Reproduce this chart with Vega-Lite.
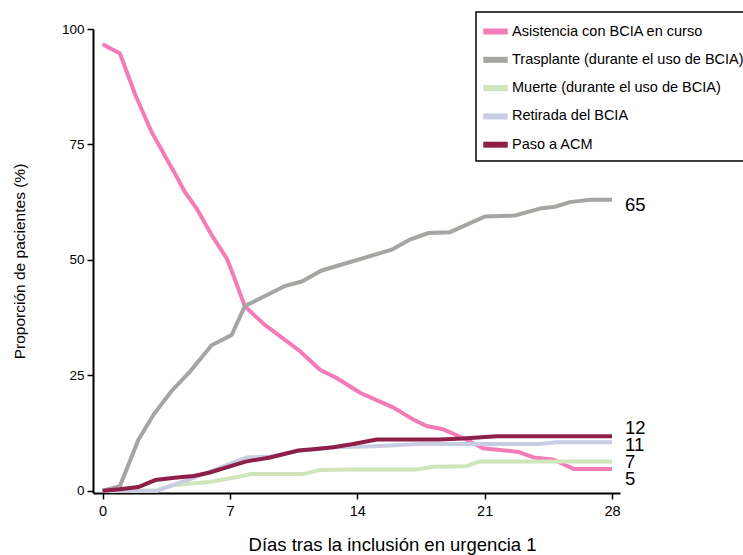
{
  "$schema": "https://vega.github.io/schema/vega-lite/v6.json",
  "autosize": {"type": "none"},
  "width": 527,
  "height": 464,
  "padding": {"left": 93, "top": 29, "right": 123, "bottom": 62},
  "background": "white",
  "config": {
    "view": {"stroke": null},
    "font": "Liberation Sans",
    "axis": {
      "grid": false,
      "domainColor": "black",
      "domainWidth": 2,
      "tickColor": "black",
      "tickWidth": 1.5,
      "tickSize": 6,
      "labelColor": "black",
      "titleColor": "black",
      "labelFont": "Liberation Sans",
      "titleFont": "Liberation Sans",
      "titleFontWeight": "normal"
    }
  },
  "datasets": {
    "lines": [
      {"day": 0, "value": 96.7, "serie": "Asistencia con BCIA en curso"},
      {"day": 0.95, "value": 94.7, "serie": "Asistencia con BCIA en curso"},
      {"day": 1.81, "value": 85.6, "serie": "Asistencia con BCIA en curso"},
      {"day": 2.69, "value": 77.7, "serie": "Asistencia con BCIA en curso"},
      {"day": 4.07, "value": 68.0, "serie": "Asistencia con BCIA en curso"},
      {"day": 4.52, "value": 64.7, "serie": "Asistencia con BCIA en curso"},
      {"day": 5.17, "value": 61.1, "serie": "Asistencia con BCIA en curso"},
      {"day": 5.99, "value": 55.4, "serie": "Asistencia con BCIA en curso"},
      {"day": 6.82, "value": 50.3, "serie": "Asistencia con BCIA en curso"},
      {"day": 7.0, "value": 48.6, "serie": "Asistencia con BCIA en curso"},
      {"day": 7.82, "value": 39.9, "serie": "Asistencia con BCIA en curso"},
      {"day": 8.92, "value": 35.9, "serie": "Asistencia con BCIA en curso"},
      {"day": 10.85, "value": 30.2, "serie": "Asistencia con BCIA en curso"},
      {"day": 11.95, "value": 26.2, "serie": "Asistencia con BCIA en curso"},
      {"day": 12.86, "value": 24.4, "serie": "Asistencia con BCIA en curso"},
      {"day": 14.15, "value": 21.2, "serie": "Asistencia con BCIA en curso"},
      {"day": 15.98, "value": 18.0, "serie": "Asistencia con BCIA en curso"},
      {"day": 17.08, "value": 15.4, "serie": "Asistencia con BCIA en curso"},
      {"day": 17.81, "value": 14.0, "serie": "Asistencia con BCIA en curso"},
      {"day": 18.7, "value": 13.3, "serie": "Asistencia con BCIA en curso"},
      {"day": 20.0, "value": 11.1, "serie": "Asistencia con BCIA en curso"},
      {"day": 20.9, "value": 9.2, "serie": "Asistencia con BCIA en curso"},
      {"day": 22.85, "value": 8.4, "serie": "Asistencia con BCIA en curso"},
      {"day": 23.7, "value": 7.2, "serie": "Asistencia con BCIA en curso"},
      {"day": 24.8, "value": 6.7, "serie": "Asistencia con BCIA en curso"},
      {"day": 25.9, "value": 4.7, "serie": "Asistencia con BCIA en curso"},
      {"day": 28, "value": 4.7, "serie": "Asistencia con BCIA en curso"},

      {"day": 0, "value": 0, "serie": "Trasplante (durante el uso de BCIA)"},
      {"day": 0.95, "value": 1.0, "serie": "Trasplante (durante el uso de BCIA)"},
      {"day": 1.96, "value": 11.0, "serie": "Trasplante (durante el uso de BCIA)"},
      {"day": 2.82, "value": 16.6, "serie": "Trasplante (durante el uso de BCIA)"},
      {"day": 3.79, "value": 21.6, "serie": "Trasplante (durante el uso de BCIA)"},
      {"day": 4.8, "value": 25.8, "serie": "Trasplante (durante el uso de BCIA)"},
      {"day": 5.99, "value": 31.5, "serie": "Trasplante (durante el uso de BCIA)"},
      {"day": 7.09, "value": 33.7, "serie": "Trasplante (durante el uso de BCIA)"},
      {"day": 7.82, "value": 40.0, "serie": "Trasplante (durante el uso de BCIA)"},
      {"day": 9.2, "value": 42.7, "serie": "Trasplante (durante el uso de BCIA)"},
      {"day": 10.0, "value": 44.3, "serie": "Trasplante (durante el uso de BCIA)"},
      {"day": 10.94, "value": 45.3, "serie": "Trasplante (durante el uso de BCIA)"},
      {"day": 12.04, "value": 47.7, "serie": "Trasplante (durante el uso de BCIA)"},
      {"day": 15.89, "value": 52.2, "serie": "Trasplante (durante el uso de BCIA)"},
      {"day": 16.89, "value": 54.4, "serie": "Trasplante (durante el uso de BCIA)"},
      {"day": 17.9, "value": 55.8, "serie": "Trasplante (durante el uso de BCIA)"},
      {"day": 19.09, "value": 56.0, "serie": "Trasplante (durante el uso de BCIA)"},
      {"day": 21.02, "value": 59.4, "serie": "Trasplante (durante el uso de BCIA)"},
      {"day": 22.67, "value": 59.6, "serie": "Trasplante (durante el uso de BCIA)"},
      {"day": 24.13, "value": 61.2, "serie": "Trasplante (durante el uso de BCIA)"},
      {"day": 24.87, "value": 61.5, "serie": "Trasplante (durante el uso de BCIA)"},
      {"day": 25.69, "value": 62.5, "serie": "Trasplante (durante el uso de BCIA)"},
      {"day": 26.79, "value": 63.0, "serie": "Trasplante (durante el uso de BCIA)"},
      {"day": 28, "value": 63.0, "serie": "Trasplante (durante el uso de BCIA)"},

      {"day": 0, "value": 0, "serie": "Muerte (durante el uso de BCIA)"},
      {"day": 2.97, "value": 0, "serie": "Muerte (durante el uso de BCIA)"},
      {"day": 3.79, "value": 1.2, "serie": "Muerte (durante el uso de BCIA)"},
      {"day": 5.07, "value": 1.6, "serie": "Muerte (durante el uso de BCIA)"},
      {"day": 5.9, "value": 1.9, "serie": "Muerte (durante el uso de BCIA)"},
      {"day": 7.82, "value": 3.3, "serie": "Muerte (durante el uso de BCIA)"},
      {"day": 8.1, "value": 3.6, "serie": "Muerte (durante el uso de BCIA)"},
      {"day": 11.03, "value": 3.6, "serie": "Muerte (durante el uso de BCIA)"},
      {"day": 11.95, "value": 4.5, "serie": "Muerte (durante el uso de BCIA)"},
      {"day": 13.6, "value": 4.6, "serie": "Muerte (durante el uso de BCIA)"},
      {"day": 17.26, "value": 4.6, "serie": "Muerte (durante el uso de BCIA)"},
      {"day": 18.18, "value": 5.2, "serie": "Muerte (durante el uso de BCIA)"},
      {"day": 20.0, "value": 5.3, "serie": "Muerte (durante el uso de BCIA)"},
      {"day": 20.7, "value": 6.3, "serie": "Muerte (durante el uso de BCIA)"},
      {"day": 28, "value": 6.3, "serie": "Muerte (durante el uso de BCIA)"},

      {"day": 0, "value": 0, "serie": "Retirada del BCIA"},
      {"day": 2.97, "value": 0, "serie": "Retirada del BCIA"},
      {"day": 4.9, "value": 2.6, "serie": "Retirada del BCIA"},
      {"day": 5.8, "value": 4.0, "serie": "Retirada del BCIA"},
      {"day": 7.92, "value": 7.2, "serie": "Retirada del BCIA"},
      {"day": 9.2, "value": 7.4, "serie": "Retirada del BCIA"},
      {"day": 10.75, "value": 8.6, "serie": "Retirada del BCIA"},
      {"day": 12.68, "value": 9.4, "serie": "Retirada del BCIA"},
      {"day": 14.88, "value": 9.6, "serie": "Retirada del BCIA"},
      {"day": 17.44, "value": 10.1, "serie": "Retirada del BCIA"},
      {"day": 24.04, "value": 10.1, "serie": "Retirada del BCIA"},
      {"day": 24.96, "value": 10.5, "serie": "Retirada del BCIA"},
      {"day": 28, "value": 10.5, "serie": "Retirada del BCIA"},

      {"day": 0, "value": 0, "serie": "Paso a ACM"},
      {"day": 0.95, "value": 0.3, "serie": "Paso a ACM"},
      {"day": 1.96, "value": 0.8, "serie": "Paso a ACM"},
      {"day": 2.9, "value": 2.3, "serie": "Paso a ACM"},
      {"day": 3.95, "value": 2.8, "serie": "Paso a ACM"},
      {"day": 5.0, "value": 3.2, "serie": "Paso a ACM"},
      {"day": 5.85, "value": 3.9, "serie": "Paso a ACM"},
      {"day": 7.85, "value": 6.3, "serie": "Paso a ACM"},
      {"day": 9.2, "value": 7.2, "serie": "Paso a ACM"},
      {"day": 10.75, "value": 8.7, "serie": "Paso a ACM"},
      {"day": 11.58, "value": 9.0, "serie": "Paso a ACM"},
      {"day": 12.68, "value": 9.4, "serie": "Paso a ACM"},
      {"day": 13.78, "value": 10.1, "serie": "Paso a ACM"},
      {"day": 15.06, "value": 11.1, "serie": "Paso a ACM"},
      {"day": 18.5, "value": 11.1, "serie": "Paso a ACM"},
      {"day": 19.8, "value": 11.3, "serie": "Paso a ACM"},
      {"day": 21.66, "value": 11.8, "serie": "Paso a ACM"},
      {"day": 28, "value": 11.8, "serie": "Paso a ACM"}
    ],
    "labels": [
      {"day": 28, "pos": 61.8, "label": "65"},
      {"day": 28, "pos": 13.5, "label": "12"},
      {"day": 28, "pos": 9.8, "label": "11"},
      {"day": 28, "pos": 6.3, "label": "7"},
      {"day": 28, "pos": 2.5, "label": "5"}
    ]
  },
  "layer": [
    {
      "data": {"name": "lines"},
      "mark": {"type": "line", "strokeWidth": 4, "strokeJoin": "miter", "strokeCap": "butt", "clip": false},
      "encoding": {
        "x": {
          "field": "day", "type": "quantitative",
          "scale": {"domain": [-0.53, 28.44], "nice": false, "zero": false},
          "axis": {"values": [0, 7, 14, 21, 28], "title": "Días tras la inclusión en urgencia 1",
                   "labelFontSize": 14.5, "titleFontSize": 18.5, "labelPadding": 5, "titlePadding": 18,
                   "titleX": 299, "titleAnchor": "middle", "titleAlign": "center"}
        },
        "y": {
          "field": "value", "type": "quantitative",
          "scale": {"domain": [-0.5, 100], "nice": false, "zero": false},
          "axis": {"values": [0, 25, 50, 75, 100], "title": "Proporción de pacientes (%)",
                   "labelFontSize": 13.5, "titleFontSize": 15.5, "labelPadding": 3, "titlePadding": 34}
        },
        "color": {
          "field": "serie", "type": "nominal",
          "scale": {
            "domain": ["Asistencia con BCIA en curso", "Trasplante (durante el uso de BCIA)", "Muerte (durante el uso de BCIA)", "Retirada del BCIA", "Paso a ACM"],
            "range": ["#f47cb6", "#a6a5a1", "#cfe6bd", "#c9cde3", "#8e1f48"]
          },
          "legend": {
            "orient": "none", "legendX": 383, "legendY": -17, "title": null,
            "symbolType": "stroke", "symbolSize": 600, "symbolStrokeWidth": 6,
            "labelFontSize": 14.5, "labelColor": "black", "labelLimit": 400, "labelOffset": 1,
            "rowPadding": 0.3, "padding": 4, "strokeColor": "black",
            "encode": {"legend": {"update": {"strokeWidth": {"value": 1.5}}}}
          }
        },
        "order": {"field": "day", "type": "quantitative"}
      }
    },
    {
      "data": {"name": "labels"},
      "mark": {"type": "text", "align": "left", "baseline": "middle", "dx": 13, "fontSize": 18.5, "color": "black", "font": "Liberation Sans"},
      "encoding": {
        "x": {"field": "day", "type": "quantitative"},
        "y": {"field": "pos", "type": "quantitative"},
        "text": {"field": "label"}
      }
    }
  ]
}
